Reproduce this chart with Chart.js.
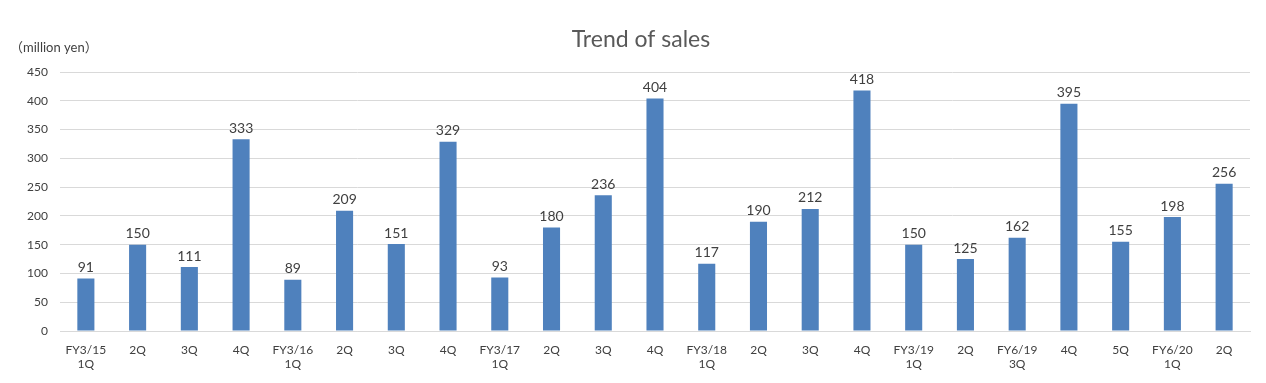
<!DOCTYPE html>
<html>
<head>
<meta charset="utf-8">
<script src="https://cdn.jsdelivr.net/npm/chart.js@4"></script>
<style>
	html, body { margin: 0; padding: 0; background: #fff; }
	#wrap { width: 1266px; height: 383px; }
</style>
</head>
<body>
<div id="wrap"><canvas id="salesChart"></canvas></div>
<script>
//categories and values
const periods = [
	['FY3/15', '1Q'], '2Q', '3Q', '4Q',
	['FY3/16', '1Q'], '2Q', '3Q', '4Q',
	['FY3/17', '1Q'], '2Q', '3Q', '4Q',
	['FY3/18', '1Q'], '2Q', '3Q', '4Q',
	['FY3/19', '1Q'], '2Q',
	['FY6/19', '3Q'], '4Q', '5Q',
	['FY6/20', '1Q'], '2Q'
];
const sales = [91, 150, 111, 333, 89, 209, 151, 329, 93, 180, 236, 404, 117, 190, 212, 418, 150, 125, 162, 395, 155, 198, 256];
const yTicks = [0, 50, 100, 150, 200, 250, 300, 350, 400, 450];

const FONT = 'Lato, "Open Sans", sans-serif';

//draws the value above each bar, the title and the unit label
const labelPlugin = {
	id: 'labels',
	afterDatasetsDraw(chart) {
		const ctx = chart.ctx;
		const meta = chart.getDatasetMeta(0);
		ctx.save();
		ctx.fillStyle = '#404040';
		ctx.font = '14px ' + FONT;
		ctx.textAlign = 'center';
		ctx.textBaseline = 'bottom';
		meta.data.forEach(function(bar, i) {
			ctx.fillText(sales[i], bar.x, bar.y - 4);
		});
		ctx.fillStyle = '#595959';
		ctx.font = '23px ' + FONT;
		ctx.textBaseline = 'middle';
		ctx.fillText('Trend of sales', 641, 40);
		ctx.font = '13px ' + FONT + ', "Noto Sans CJK JP"';
		ctx.textAlign = 'left';
		ctx.fillStyle = '#404040';
		ctx.fillText('（million yen）', 10, 48);
		ctx.restore();
	}
};

new Chart(document.getElementById('salesChart'), {
	type: 'bar',
	data: {
		labels: periods,
		datasets: [{
			data: sales,
			backgroundColor: '#4F81BD',
			barPercentage: 0.66,
			categoryPercentage: 0.5
		}]
	},
	options: {
		responsive: true,
		maintainAspectRatio: false,
		animation: false,
		layout: { padding: { top: 72, right: 16, left: 0, bottom: 0 } },
		plugins: {
			legend: { display: false },
			tooltip: { enabled: false }
		},
		scales: {
			x: {
				grid: { display: false, drawTicks: false },
				border: { color: '#d9d9d9', width: 1 },
				ticks: {
					color: '#404040',
					font: { family: FONT, size: 12 },
					padding: 12,
					maxRotation: 0,
					autoSkip: false
				},
				afterFit(scale) { scale.height = 52; }
			},
			y: {
				min: 0,
				max: 450,
				afterBuildTicks(scale) {
					scale.ticks = yTicks.map(function(v) { return { value: v }; });
				},
				grid: { color: '#d9d9d9', drawTicks: false },
				border: { display: false },
				ticks: {
					color: '#404040',
					font: { family: FONT, size: 12 },
					padding: 12
				},
				afterFit(scale) { scale.width = 60; }
			}
		}
	},
	plugins: [labelPlugin]
});
</script>
</body>
</html>
